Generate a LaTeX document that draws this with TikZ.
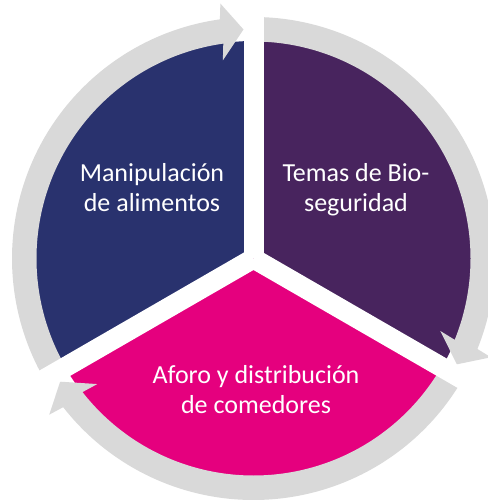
\documentclass[tikz,border=0pt]{standalone}
\usepackage{fontspec}
\setmainfont{Carlito}
\usetikzlibrary{calc}
\definecolor{navy}{RGB}{41,50,110}
\definecolor{plum}{RGB}{72,36,94}
\definecolor{magenta}{RGB}{229,0,126}
\definecolor{ring}{RGB}{217,217,217}
\begin{document}
\begin{tikzpicture}[x=1pt,y=1pt,
    segtext/.style={text=white,align=center,anchor=base,font=\fontsize{26}{30}\selectfont}]
                \useasboundingbox (-253.5,-243.5) rectangle (233.5,258.5);
                \fill[navy] (0,0) -- (90:217.5) arc (90:210:217.5) -- cycle;
                \fill[plum] (0,0) -- (-30:217.5) arc (-30:90:217.5) -- cycle;
                \fill[magenta] (0,0) -- (210:217.5) arc (210:330:217.5) -- cycle;
                \foreach \s/\t/\b in {210/92.5/98, 90/-27.5/-22, -30/-147.5/-142}
                    \fill[ring] (\s:217) arc (\s:\b:217) -- ($(\b:229.25)-(\t:29)$) -- (\t:229.25)
                        -- ($(\b:229.25)+(\t:28)$) -- (\b:241.5) arc (\b:\s:241.5) -- cycle;
                \foreach \a in {90,210,330}
                    \draw[white,line width=20pt] (0,0) -- (\a:262);
                \node[segtext] (food) at (-101.5,46.5) {Manipulación\\de alimentos};
                \node[segtext] (bio) at (102.5,46.5) {Temas de Bio-\\seguridad};
                \node[segtext] (seats) at (2.5,-155) {Aforo y distribución\\de comedores};
            \end{tikzpicture}
\end{document}
